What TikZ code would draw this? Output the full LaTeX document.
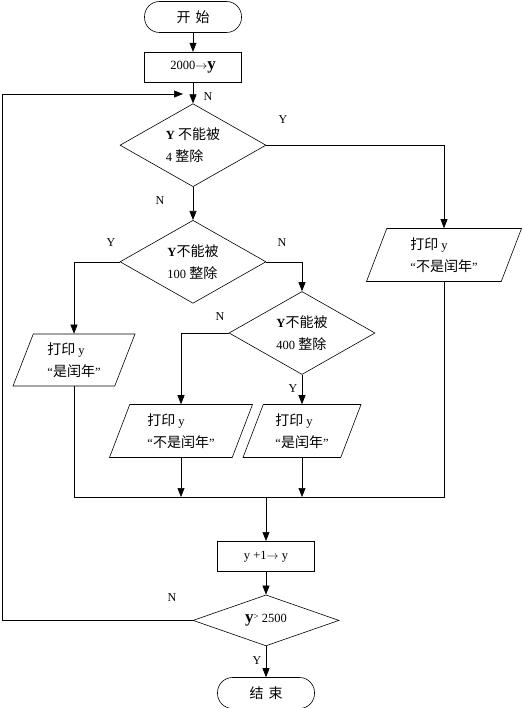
\documentclass[tikz,border=0pt]{standalone}
\usepackage{fontspec}
\setmainfont{Liberation Serif}
\newfontfamily\cjk[Scale=1.12]{Noto Sans CJK SC}
\usetikzlibrary{arrows.meta, positioning, shapes.geometric}

\begin{document}
\begin{tikzpicture}[
        x=1pt, y=-1pt, line width=0.6pt,
        font=\fontsize{12.5}{22}\selectfont,
        terminal/.style={rectangle, draw, rounded corners=15pt, minimum width=97pt, minimum height=31pt},
        process/.style={rectangle, draw, minimum width=97pt, minimum height=30pt},
        decision/.style={diamond, draw, aspect=1.75, inner sep=1pt, minimum width=146pt, minimum height=83pt, align=left},
        io/.style={trapezium, draw, trapezium left angle=64, trapezium right angle=116, trapezium stretches body, minimum height=53pt, align=left},
        line/.style={draw, -{Triangle[width=7pt, length=9pt]}},
        wire/.style={draw},
        lbl/.style={font=\fontsize{12}{13}\selectfont}
    ]
        \useasboundingbox (0,0) rectangle (522,708);

        \node [terminal] (start) at (193,17) {\cjk 开\hspace{5pt}始};
        \node [process, below=19pt of start] (init) {2000$\rightarrow$\textbf{\fontsize{17}{17}\selectfont y}};
        \node [decision, below=21pt of init] (d4) {\textbf{Y} {\cjk 不能被}\\4 {\cjk 整除}};
        \node [decision, below=33pt of d4] (d100) {\textbf{Y}{\cjk 不能被}\\100 {\cjk 整除}};
        \node [decision] (d400) at (302,333) {\textbf{Y}{\cjk 不能被}\\400 {\cjk 整除}};
        \node [io, minimum width=155pt] (notleap1) at (444,255) {{\cjk 打印}\hspace{3pt}y\\“{\cjk 不是闰年}”};
        \node [io, minimum width=122pt, minimum height=52pt] (leap1) at (74,360) {{\cjk 打印}\hspace{3pt}y\\“{\cjk 是闰年}”};
        \node [io, minimum width=143pt] (notleap2) at (181,431) {{\cjk 打印}\hspace{3pt}y\\“{\cjk 不是闰年}”};
        \node [io, minimum width=118pt] (leap2) at (302,431) {{\cjk 打印}\hspace{3pt}y\\“{\cjk 是闰年}”};
        \coordinate (mrg) at (266,497);
        \node [process, below=44pt of mrg] (incr) {y +1$\rightarrow$ y};
        \node [decision, minimum height=51pt, below=23pt of incr] (gt) {\textbf{\fontsize{17}{17}\selectfont y}\raisebox{3pt}{\small >} 2500};
        \node [terminal, below=31pt of gt] (stop) {\cjk 结\hspace{5pt}束};
        \coordinate (back) at (183,94);

        \path [line] (start) -- (init);
        \path [line] (init) -- (d4);
        \path [line] (d4) -- (d100);
        \path [line] (d4.east) -| (notleap1.north);
        \path [line] (d100.west) -| (leap1.north);
        \path [line] (d100.east) -| (d400.north);
        \path [line] (d400.west) -| (notleap2.north);
        \path [line] (d400) -- (leap2);
        \path [wire] (leap1.south) |- (notleap1.south |- mrg) -- (notleap1.south);
        \path [line] (notleap2.south) -- (notleap2.south |- mrg);
        \path [line] (leap2.south) -- (leap2.south |- mrg);
        \path [line] (mrg) -- (incr);
        \path [line] (incr) -- (gt);
        \path [line] (gt) -- (stop);
        \path [line] (gt.west) -- ++(-190,0) |- (back);

        % branch labels
        \node [lbl] at (208,97) {N};
        \node [lbl] at (283,120) {Y};
        \node [lbl] at (160,201) {N};
        \node [lbl] at (111,243) {Y};
        \node [lbl] at (282,243) {N};
        \node [lbl] at (220,317) {N};
        \node [lbl] at (293,389) {Y};
        \node [lbl] at (172,598) {N};
        \node [lbl] at (257,661) {Y};
    \end{tikzpicture}
\end{document}
